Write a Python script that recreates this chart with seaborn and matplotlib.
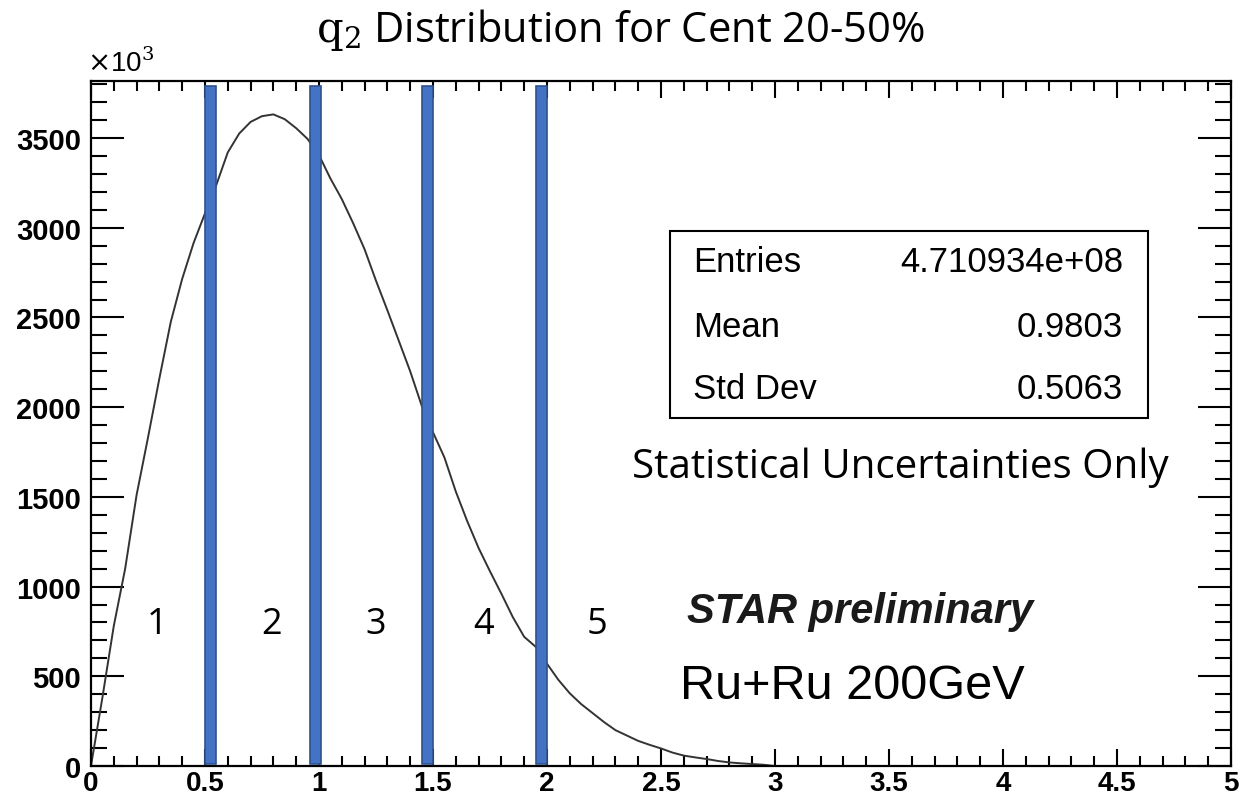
import numpy as np
import pandas as pd
import matplotlib
matplotlib.use("Agg")
import matplotlib.pyplot as plt
import seaborn as sns
from matplotlib.ticker import MultipleLocator
from matplotlib.patches import Rectangle

# ---- data (counts in units of 10^3) ----
q2 = [0.00, 0.05, 0.10, 0.15, 0.20, 0.25, 0.30, 0.35, 0.40, 0.45,
      0.50, 0.55, 0.60, 0.65, 0.70, 0.75, 0.80, 0.85, 0.90, 0.95,
      1.00, 1.05, 1.10, 1.15, 1.20, 1.25, 1.30, 1.35, 1.40, 1.45,
      1.50, 1.55, 1.60, 1.65, 1.70, 1.75, 1.80, 1.85, 1.90, 1.95,
      2.00, 2.05, 2.10, 2.15, 2.20, 2.25, 2.30, 2.35, 2.40, 2.45,
      2.50, 2.55, 2.60, 2.65, 2.70, 2.75, 2.80, 2.85, 2.90, 2.95, 3.00]
counts = [0, 380, 780, 1100, 1510, 1830, 2160, 2475, 2715, 2915,
          3080, 3240, 3420, 3525, 3590, 3622, 3632, 3605, 3555, 3495,
          3405, 3275, 3160, 3025, 2880, 2705, 2540, 2370, 2200, 2010,
          1860, 1720, 1530, 1365, 1215, 1085, 960, 830, 720, 665,
          570, 480, 405, 345, 295, 245, 200, 170, 140, 118,
          98, 75, 58, 48, 39, 28, 20, 15, 11, 7, 0]

cut_left = [0.50, 0.96, 1.45, 1.95]
cut_width = 0.05
region_labels = ["1", "2", "3", "4", "5"]
region_x = [0.29, 0.79, 1.25, 1.72, 2.22]

stat_names = ["Entries", "Mean", "Std Dev"]
stat_values = ["4.710934e+08", "0.9803", "0.5063"]

x_ticks = [0, 0.5, 1, 1.5, 2, 2.5, 3, 3.5, 4, 4.5, 5]
x_ticklabels = ["0", "0.5", "1", "1.5", "2", "2.5", "3", "3.5", "4", "4.5", "5"]
y_ticks = [0, 500, 1000, 1500, 2000, 2500, 3000, 3500]

# ---- style ----
sns.set_theme(style="white")
plt.rcParams['font.family'] = ['Liberation Sans', 'DejaVu Sans']
plt.rcParams['mathtext.fontset'] = 'dejavuserif'

fig = plt.figure(figsize=(12.41, 8.04), dpi=100)
ax = fig.add_axes([0.0733, 0.046, 0.9187, 0.852])

df = pd.DataFrame({"q2": q2, "counts": counts})
sns.lineplot(data=df, x="q2", y="counts", ax=ax, color="#333333",
             linewidth=1.4, estimator=None)

# blue cut bars
ax.bar(cut_left, [3780] * len(cut_left), bottom=10, width=cut_width,
       align="edge", color="#4472C4", edgecolor="#2F528F", linewidth=1.2,
       zorder=3)

ax.set_xlim(0, 5)
ax.set_ylim(0, 3818)
ax.set_xlabel("")
ax.set_ylabel("")
ax.set_xticks(x_ticks)
ax.set_xticklabels(x_ticklabels)
ax.set_yticks(y_ticks)
ax.xaxis.set_minor_locator(MultipleLocator(0.1))
ax.yaxis.set_minor_locator(MultipleLocator(100))

for s in ax.spines.values():
    s.set_visible(True)
    s.set_color("black")
    s.set_linewidth(1.6)

ax.tick_params(axis="x", which="major", direction="in", length=12, width=1.5,
               top=True, bottom=True, labelsize=20, pad=3, color="black")
ax.tick_params(axis="x", which="minor", direction="in", length=7, width=1.5,
               top=True, bottom=True, color="black")
ax.tick_params(axis="y", which="major", direction="in", length=24, width=1.5,
               left=True, right=True, labelsize=21, pad=7, color="black")
ax.tick_params(axis="y", which="minor", direction="in", length=11.5, width=1.5,
               left=True, right=True, color="black")
for lab in ax.get_xticklabels() + ax.get_yticklabels():
    lab.set_fontweight("bold")
    lab.set_color("black")

# x10^3 multiplier
fig.text(0.070, 0.903, r"$\times$10$^{3}$", fontsize=20, ha="left", va="bottom",
         family="Liberation Sans", color="black")

# title
fig.text(0.5, 0.963, r"$\mathrm{q}_{2}$ Distribution for Cent 20-50%", fontsize=30,
         ha="center", va="center", family=["Open Sans", "DejaVu Sans"], color="black")

# region labels
for lx, lt in zip(region_x, region_labels):
    ax.text(lx, 790, lt, fontsize=26, ha="center", va="center",
            family="Open Sans", color="black")

# stats box
box = Rectangle((0.5079, 0.508), 0.4193, 0.273, transform=ax.transAxes,
                fill=True, facecolor="white", edgecolor="black", linewidth=1.5, zorder=4)
ax.add_patch(box)
row_y = [0.7358, 0.6423, 0.5504]
for ry, nm, vl in zip(row_y, stat_names, stat_values):
    ax.text(0.528, ry, nm, transform=ax.transAxes, fontsize=25, ha="left",
            va="center", color="black", zorder=5)
    ax.text(0.9053, ry, vl, transform=ax.transAxes, fontsize=25, ha="right",
            va="center", color="black", zorder=5)

ax.text(0.7096, 0.4365, "Statistical Uncertainties Only", transform=ax.transAxes,
        fontsize=29, ha="center", va="center", family="Open Sans", color="black")

ax.text(0.6746, 0.2263, "STAR preliminary", transform=ax.transAxes, fontsize=30,
        ha="center", va="center", fontweight="bold", fontstyle="italic",
        color="#1a1a1a")
ax.text(0.6675, 0.118, "Ru+Ru 200GeV", transform=ax.transAxes, fontsize=35,
        ha="center", va="center", color="black")

fig.savefig("out.png", dpi=100)
